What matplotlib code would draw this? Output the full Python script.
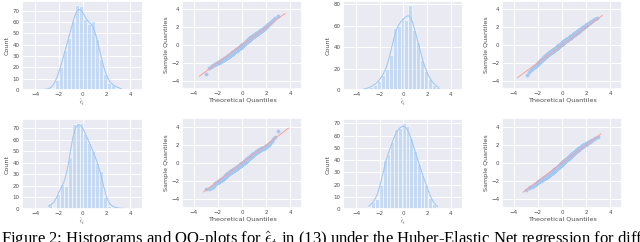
import numpy as np
import matplotlib
matplotlib.use("Agg")
import matplotlib.pyplot as plt
from matplotlib.ticker import MultipleLocator
import seaborn as sns
from statistics import NormalDist

# ---------------- data ----------------
# histogram 1 (row 1, col 1) -- same residuals feed QQ plot 1
h1_first_center = -3.21
h1_bin_width = 0.34
h1_counts = [1, 0, 2, 9, 20, 35, 46, 61, 75, 74, 63, 58, 61, 45, 27, 14, 6, 4, 2, 1]

# histogram 2 (row 1, col 3) -- QQ plot 2
h2_first_center = -3.37
h2_bin_width = 0.33
h2_counts = [1, 1, 3, 5, 8, 14, 20, 33, 58, 60, 68, 65, 79, 56, 45, 28, 18, 10, 5, 3]

# histogram 3 (row 2, col 1) -- QQ plot 3
h3_first_center = -2.75
h3_bin_width = 0.33
h3_counts = [5, 2, 13, 22, 20, 45, 73, 74, 74, 65, 57, 50, 40, 33, 10, 3, 2, 1, 0, 1]

# histogram 4 (row 2, col 3) -- QQ plot 4
h4_first_center = -2.85
h4_bin_width = 0.32
h4_counts = [2, 6, 8, 20, 40, 45, 55, 65, 66, 70, 68, 58, 47, 37, 28, 20, 9, 4, 1]

hist_yticks_step = [10, 20, 10, 10]
axis_ticks = [-4, -2, 0, 2, 4]

hist_xlabel = r"$\hat{\epsilon}_t$"
hist_ylabel = "Count"
qq_xlabel = "Theoretical Quantiles"
qq_ylabel = "Sample Quantiles"
caption = (r"Figure 2: Histograms and QQ-plots for $\hat{\epsilon}_t$ in (13) "
           r"under the Huber-Elastic Net regression for diff")

# ---------------- style ----------------
sns.set_theme(style="darkgrid", palette="pastel")
plt.rcParams.update({
    "mathtext.fontset": "cm",
    "xtick.labelsize": 4,
    "ytick.labelsize": 4,
    "axes.labelsize": 4.6,
    "xtick.major.size": 0,
    "ytick.major.size": 0,
    "xtick.major.pad": 1.6,
    "ytick.major.pad": 1.8,
    "axes.labelpad": 0.8,
    "grid.linewidth": 0.7,
    "text.color": ".3",
    "axes.labelcolor": ".3",
    "xtick.color": ".3",
    "ytick.color": ".3",
})
pal = sns.color_palette("pastel")
blue, red = pal[0], pal[3]

W, H = 640, 242
fig = plt.figure(figsize=(W / 100, H / 100), dpi=100)


def px_axes(left, top, right, bottom):
    return fig.add_axes([left / W, 1 - bottom / H, (right - left) / W, (bottom - top) / H])


def expand(first_center, width, counts):
    edges = first_center - width / 2 + width * np.arange(len(counts) + 1)
    vals = []
    for i, c in enumerate(counts):
        if c:
            vals.extend(edges[i] + (np.arange(c) + 0.5) / c * width)
    return edges, np.sort(np.array(vals))


def draw_hist(ax, first_center, width, counts, ystep, ylab_x):
    edges, vals = expand(first_center, width, counts)
    sns.histplot(x=vals, bins=edges, kde=True, ax=ax, color=blue,
                 line_kws={"linewidth": 0.8}, edgecolor="white", linewidth=0.4)
    ax.set_xlim(-5.1, 5.05)
    ax.set_xticks(axis_ticks)
    ax.yaxis.set_major_locator(MultipleLocator(ystep))
    ax.set_xlabel(hist_xlabel, labelpad=0.2)
    ax.set_ylabel(hist_ylabel)
    ax.yaxis.set_label_coords(ylab_x, 0.5)
    return vals


def draw_qq(ax, vals, ylab_x):
    n = len(vals)
    nd = NormalDist()
    theo = np.array([nd.inv_cdf(i / (n + 1)) for i in range(1, n + 1)])
    ax.set_xmargin(0.02)
    ax.plot(theo, vals, linestyle="none", marker="o", markersize=2.4,
            markerfacecolor=blue, markeredgecolor=blue, markeredgewidth=0.3)
    ax.autoscale_view()
    xl, yl = ax.get_xlim(), ax.get_ylim()
    lo, hi = min(xl[0], yl[0]), max(xl[1], yl[1])
    ax.plot([lo, hi], [lo, hi], color=red, linewidth=0.7)
    ax.set_xlim(-4.95, 4.95)
    ax.set_ylim(-4.95, 4.95)
    ax.set_xticks(axis_ticks)
    ax.set_yticks(axis_ticks)
    ax.set_xlabel(qq_xlabel)
    ax.set_ylabel(qq_ylabel)
    ax.yaxis.set_label_coords(ylab_x, 0.5)


hists = [
    (h1_first_center, h1_bin_width, h1_counts),
    (h2_first_center, h2_bin_width, h2_counts),
    (h3_first_center, h3_bin_width, h3_counts),
    (h4_first_center, h4_bin_width, h4_counts),
]
hist_boxes = [(22, 1, 143, 90), (343, 1, 463, 90), (22, 119, 143, 209), (343, 119, 463, 209)]
qq_boxes = [(182, 1, 302, 89), (502, 1, 622, 89), (182, 118, 302, 208), (502, 118, 622, 208)]

for k in range(4):
    axh = px_axes(*hist_boxes[k])
    vals = draw_hist(axh, *hists[k], hist_yticks_step[k], -0.10)
    axq = px_axes(*qq_boxes[k])
    draw_qq(axq, vals, -0.11)

fig.text(1 / W, 1 - 244.5 / H, caption, fontsize=12, color="black",
         family="Liberation Serif", ha="left", va="baseline")

fig.savefig("out.png", dpi=100)
